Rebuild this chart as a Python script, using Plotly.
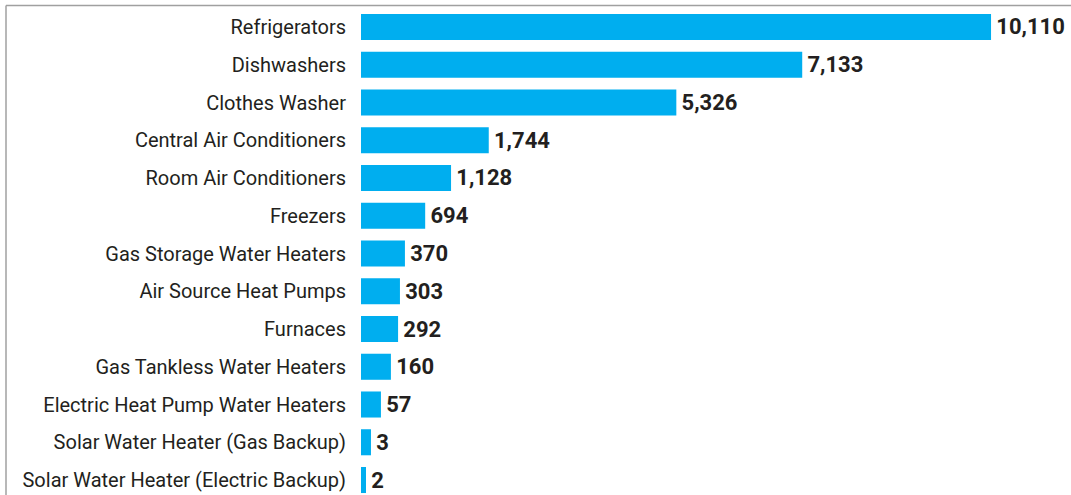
import plotly.graph_objects as go

categories = [
    "Refrigerators",
    "Dishwashers",
    "Clothes Washer",
    "Central Air Conditioners",
    "Room Air Conditioners",
    "Freezers",
    "Gas Storage Water Heaters",
    "Air Source Heat Pumps",
    "Furnaces",
    "Gas Tankless Water Heaters",
    "Electric Heat Pump Water Heaters",
    "Solar Water Heater (Gas Backup)",
    "Solar Water Heater (Electric Backup)",
]
# labelled values
values = [10110, 7133, 5326, 1744, 1128, 694, 370, 303, 292, 160, 57, 3, 2]
# drawn bar lengths as they appear in the picture (same units, not strictly to scale)
bar_lengths = [10110, 7080, 5060, 2050, 1445, 1030, 705, 625, 595, 480, 320, 160, 80]

labels = ["\u200a" + f"{v:,}" for v in values]

W, H = 1071, 495
ML = 361
fig = go.Figure(
    go.Bar(
        x=bar_lengths,
        y=categories,
        orientation="h",
        marker=dict(color="#00AEEF", line=dict(width=0)),
        text=labels,
        textposition="outside",
        constraintext="none",
        cliponaxis=False,
        textfont=dict(family="Roboto, sans-serif",
                      size=22, color="#231F20", weight="bold"),
        hoverinfo="skip",
    )
)

fig.update_layout(
    width=W,
    height=H,
    margin=dict(l=ML, r=0, t=0, b=0, autoexpand=False),
    paper_bgcolor="white",
    plot_bgcolor="white",
    bargap=0.31,
    showlegend=False,
    xaxis=dict(range=[0, 11393], visible=False, fixedrange=True, automargin=False),
    yaxis=dict(
        type="category",
        range=[12.397, -0.715],
        automargin=False,
        showgrid=False,
        zeroline=False,
        showline=False,
        ticks="",
        ticklabelstandoff=14,
        tickfont=dict(family="Roboto, sans-serif", size=20, color="#231F20"),
    ),
    shapes=[
        dict(type="line", xref="paper", yref="paper",
             x0=(6 - ML) / (W - ML), x1=1.0, y0=1 - 5.5 / H, y1=1 - 5.5 / H,
             line=dict(color="#A0A0A0", width=1.5)),
        dict(type="line", xref="paper", yref="paper",
             x0=(6 - ML) / (W - ML), x1=(6 - ML) / (W - ML), y0=-0.05, y1=1 - 5.5 / H,
             line=dict(color="#A0A0A0", width=1.5)),
    ],
)

fig.write_html(
    "out.html",
    config={"displayModeBar": False},
    post_script="document.body.style.margin='0';document.body.style.overflow='hidden';",
)
